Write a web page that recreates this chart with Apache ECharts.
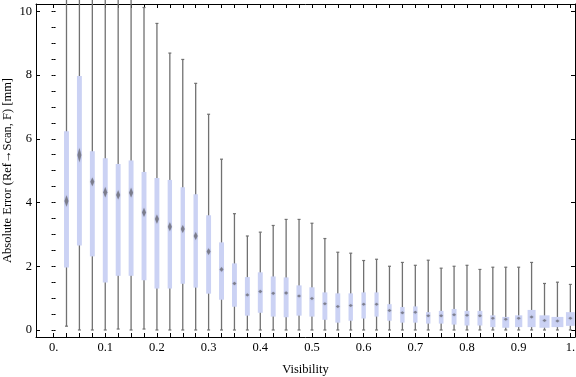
<!DOCTYPE html>
<html>
<head>
<meta charset="utf-8">
<script src="https://cdn.jsdelivr.net/npm/echarts@6/dist/echarts.min.js"></script>
<style>
html,body{margin:0;padding:0;background:#fff;}
#main{width:576px;height:377px;}
</style>
</head>
<body>
<div id="main"></div>
<script>
// box positions (Visibility)
var visibility = [0.025,0.05,0.075,0.1,0.125,0.15,0.175,0.2,0.225,0.25,
	0.275,0.3,0.325,0.35,0.375,0.4,0.425,0.45,0.475,0.5,
	0.525,0.55,0.575,0.6,0.625,0.65,0.675,0.7,0.725,0.75,
	0.775,0.8,0.825,0.85,0.875,0.9,0.925,0.95,0.975,1.0];
// lower whisker
var whiskerLow = [0.12,0,0,0,0.03,0,0.03,0,0,0,
	0,0,0,0,0,0,0,0,0,0,
	0,0,0,0,0,0,0,0,0,0,
	0,0,0,0,0,0,0,0,0,0];
// first quartile
var q1 = [1.96,2.65,2.31,1.49,1.70,1.70,1.56,1.30,1.30,1.45,
	1.33,1.14,0.95,0.73,0.45,0.54,0.42,0.40,0.45,0.42,
	0.32,0.23,0.29,0.36,0.42,0.29,0.23,0.23,0.20,0.20,
	0.17,0.14,0.14,0.09,0.07,0.09,0.09,0.07,0.09,0.13];
// median
var median = [4.05,5.49,4.65,4.32,4.24,4.31,3.69,3.48,3.24,3.17,
	2.95,2.46,1.90,1.46,1.10,1.21,1.15,1.16,1.07,0.99,
	0.82,0.74,0.77,0.81,0.81,0.61,0.54,0.56,0.45,0.45,
	0.48,0.46,0.45,0.37,0.34,0.37,0.41,0.30,0.28,0.37];
// third quartile
var q3 = [6.24,7.97,5.61,5.39,5.21,5.32,4.96,4.77,4.71,4.48,
	4.26,3.60,2.75,2.09,1.66,1.81,1.68,1.65,1.40,1.34,
	1.18,1.15,1.15,1.18,1.18,0.81,0.72,0.74,0.56,0.60,
	0.66,0.60,0.60,0.46,0.41,0.46,0.63,0.46,0.41,0.56];
// upper whisker (first ones run off the top)
var whiskerHigh = [10.6,10.6,10.6,10.6,10.6,10.6,10.12,9.62,8.69,8.49,
	7.74,6.77,5.36,3.65,2.95,3.07,3.28,3.47,3.47,3.35,
	2.87,2.44,2.41,2.18,2.22,2.00,2.12,2.03,2.19,1.94,
	2.00,2.03,1.90,1.97,1.97,1.97,2.12,1.46,1.50,1.43];
// box span in Visibility units
var boxSpan = [0.0095,0.0095,0.0095,0.0095,0.0095,0.0095,0.0095,0.0095,0.0085,0.0085,
	0.0085,0.0095,0.0095,0.0095,0.0095,0.0095,0.0095,0.0095,0.01,0.01,
	0.0095,0.0095,0.0085,0.0085,0.008,0.0085,0.0085,0.0085,0.0085,0.009,
	0.0095,0.0095,0.0095,0.01,0.0135,0.014,0.0155,0.0195,0.023,0.017];

var xLabels = [0,0.1,0.2,0.3,0.4,0.5,0.6,0.7,0.8,0.9,1];
var xTicks = [];
for (var i = 0; i <= 40; i++) xTicks.push(i * 0.025);
var yLabels = [0,2,4,6,8,10];
var yMinor = [];
for (var j = 0; j <= 20; j++) yMinor.push(j * 0.5);

var fontName = 'Liberation Serif';
var xMin = -0.034, xMax = 1.009, yMin = -0.22, yMax = 10.23;

var boxData = visibility.map(function(v, i) {
	return [v, whiskerLow[i], q1[i], median[i], q3[i], whiskerHigh[i], boxSpan[i]];
});

function renderBox(params, api) {
	var x = api.value(0);
	var pLo = api.coord([x, api.value(1)]);
	var pQ1 = api.coord([x, api.value(2)]);
	var pMed = api.coord([x, api.value(3)]);
	var pQ3 = api.coord([x, api.value(4)]);
	var pHi = api.coord([x, api.value(5)]);
	var w = api.size([api.value(6), 0])[0];
	var iqr = api.value(4) - api.value(2);
	var nh = Math.max(api.size([0, iqr * 0.042])[1], 1.5);
	var cx = pMed[0];
	var gray = '#717171';
	return {
		type: 'group',
		children: [
			{type: 'line', shape: {x1: cx, y1: pLo[1], x2: cx, y2: pHi[1]}, style: {stroke: gray, lineWidth: 1.3}},
			{type: 'line', shape: {x1: cx - 1.5, y1: pLo[1], x2: cx + 1.5, y2: pLo[1]}, style: {stroke: gray, lineWidth: 1.2}},
			{type: 'line', shape: {x1: cx - 1.5, y1: pHi[1], x2: cx + 1.5, y2: pHi[1]}, style: {stroke: gray, lineWidth: 1.2}},
			{type: 'rect', shape: {x: cx - w / 2, y: pQ3[1], width: w, height: pQ1[1] - pQ3[1]}, style: {fill: '#cbd2f4'}},
			{type: 'polygon', shape: {points: [[cx, pMed[1] - nh], [cx + 2, pMed[1]], [cx, pMed[1] + nh], [cx - 2, pMed[1]]]},
				style: {fill: 'rgba(100,100,110,0.68)', shadowBlur: 1.5, shadowColor: 'rgba(100,100,110,0.5)'}}
		]
	};
}

var myChart = echarts.init(document.getElementById('main'));

var lineStyle = {color: '#000', width: 1};
var option = {
	animation: false,
	grid: {left: 36, right: 1, top: 4, bottom: 40, containLabel: false, outerBoundsMode: 'none'},
	xAxis: [{
		type: 'value', position: 'bottom', min: xMin, max: xMax,
		axisLine: {show: true, onZero: false, lineStyle: lineStyle},
		axisTick: {show: true, inside: true, length: 4, customValues: xTicks, lineStyle: lineStyle},
		axisLabel: {
			customValues: xLabels, margin: 4, color: '#000', fontFamily: fontName, fontSize: 12.5,
			formatter: function(v) {
				if (v === 0) return '0.';
				if (v === 1) return '1.';
				return v.toFixed(1);
			}
		},
		splitLine: {show: false},
		name: 'Visibility', nameLocation: 'middle', nameGap: 26, nameMoveOverlap: false,
		nameTextStyle: {color: '#000', fontFamily: fontName, fontSize: 12.5}
	}, {
		type: 'value', position: 'top', min: xMin, max: xMax,
		axisLine: {show: true, onZero: false, lineStyle: lineStyle},
		axisTick: {show: true, inside: true, length: 4, customValues: xTicks, lineStyle: lineStyle},
		axisLabel: {show: false},
		splitLine: {show: false}
	}],
	yAxis: [{
		type: 'value', position: 'left', min: yMin, max: yMax,
		axisLine: {show: true, onZero: false, lineStyle: lineStyle},
		axisTick: {show: true, inside: true, length: 4, customValues: yLabels, lineStyle: lineStyle},
		axisLabel: {customValues: yLabels, margin: 4, color: '#000', fontFamily: fontName, fontSize: 12.5},
		splitLine: {show: false},
		name: 'Absolute Error (Ref\u2192Scan, F) [mm]', nameLocation: 'middle', nameGap: 21.5, nameMoveOverlap: false,
		nameTextStyle: {color: '#000', fontFamily: fontName, fontSize: 12.5}
	}, {
		type: 'value', position: 'left', min: yMin, max: yMax,
		axisLine: {show: false},
		axisTick: {show: true, inside: true, length: 2, customValues: yMinor, lineStyle: lineStyle},
		axisLabel: {show: false},
		splitLine: {show: false}
	}, {
		type: 'value', position: 'right', min: yMin, max: yMax,
		axisLine: {show: true, onZero: false, lineStyle: lineStyle},
		axisTick: {show: true, inside: true, length: 4, customValues: yLabels, lineStyle: lineStyle},
		axisLabel: {show: false},
		splitLine: {show: false}
	}, {
		type: 'value', position: 'right', min: yMin, max: yMax,
		axisLine: {show: false},
		axisTick: {show: true, inside: true, length: 2, customValues: yMinor, lineStyle: lineStyle},
		axisLabel: {show: false},
		splitLine: {show: false}
	}],
	series: [{
		type: 'custom',
		renderItem: renderBox,
		clip: false,
		xAxisIndex: 0,
		yAxisIndex: 0,
		encode: {x: 0, y: [1, 2, 3, 4, 5]},
		data: boxData
	}]
};
myChart.setOption(option);
</script>
</body>
</html>
